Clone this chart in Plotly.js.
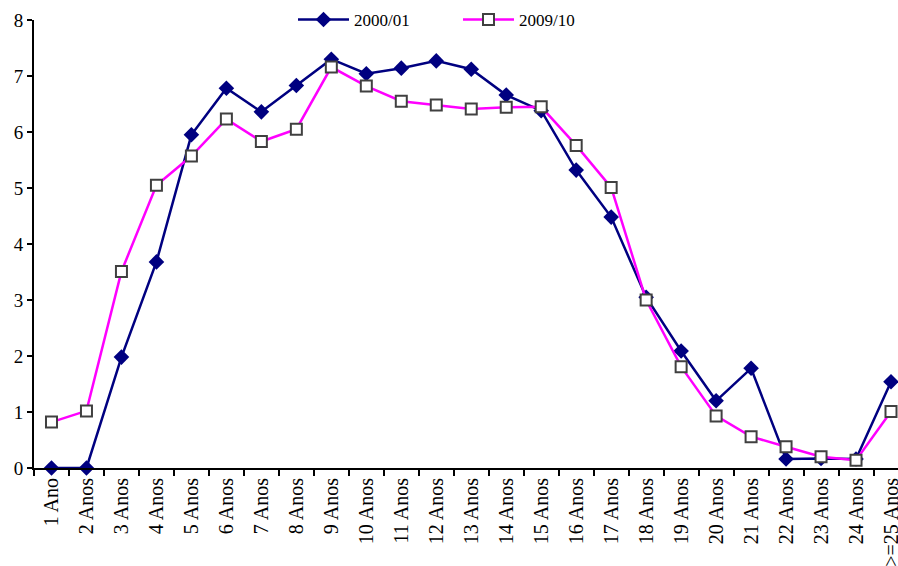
<!DOCTYPE html>
<html>
<head>
<meta charset="utf-8">
<script src="https://cdn.plot.ly/plotly-3.0.1.min.js"></script>
<style>html,body{margin:0;padding:0;background:#fff;}#chart{width:898px;height:566px;}</style>
</head>
<body>
<div id="chart"></div>
<script>
var categories = ["1 Ano","2 Anos","3 Anos","4 Anos","5 Anos","6 Anos","7 Anos","8 Anos","9 Anos","10 Anos","11 Anos","12 Anos","13 Anos","14 Anos","15 Anos","16 Anos","17 Anos","18 Anos","19 Anos","20 Anos","21 Anos","22 Anos","23 Anos","24 Anos",">=25 Anos"];
var series2000 = [0, 0, 1.98, 3.68, 5.95, 6.78, 6.36, 6.83, 7.30, 7.04, 7.14, 7.27, 7.12, 6.66, 6.38, 5.32, 4.48, 3.05, 2.09, 1.20, 1.78, 0.16, 0.17, 0.16, 1.54];
var series2009 = [0.82, 1.02, 3.51, 5.05, 5.57, 6.23, 5.83, 6.05, 7.16, 6.82, 6.55, 6.48, 6.41, 6.44, 6.45, 5.76, 5.01, 3.00, 1.81, 0.93, 0.56, 0.38, 0.20, 0.14, 1.01];
var seriesNames = ["2000/01", "2009/10"];

var traces = [
  {
    x: categories, y: series2000, name: seriesNames[0], type: "scatter", mode: "lines+markers",
    line: {color: "#000080", width: 2.5},
    marker: {symbol: "diamond", size: 12, color: "#000080", line: {width: 0}},
    cliponaxis: false, legend: "legend"
  },
  {
    x: categories, y: series2009, name: seriesNames[1], type: "scatter", mode: "lines+markers",
    line: {color: "#FF00FF", width: 2.5},
    marker: {symbol: "square", size: 11, color: "#FFFFFF", line: {color: "#404040", width: 2}},
    cliponaxis: false, legend: "legend2"
  }
];

var legendFont = {size: 17, family: "Liberation Serif, Times New Roman, serif", color: "#000"};
var layout = {
  width: 898, height: 566,
  margin: {l: 34, r: 0, t: 20, b: 98, pad: 0},
  paper_bgcolor: "#fff", plot_bgcolor: "#fff",
  font: {family: "Liberation Serif, Times New Roman, serif", size: 20, color: "#000"},
  showlegend: true,
  legend: {orientation: "h", x: (293 - 34) / 864, xanchor: "left", y: 1.0, yanchor: "middle", font: legendFont, itemwidth: 51, bgcolor: "rgba(0,0,0,0)"},
  legend2: {orientation: "h", x: (458 - 34) / 864, xanchor: "left", y: 1.0, yanchor: "middle", font: legendFont, itemwidth: 51, bgcolor: "rgba(0,0,0,0)"},
  xaxis: {
    type: "category", range: [-0.5, 24.2], showgrid: false, zeroline: false,
    showline: true, linecolor: "#000", linewidth: 2,
    ticks: "outside", tickson: "boundaries", ticklen: 6, tickwidth: 2, tickcolor: "#000",
    tickangle: -90, tickfont: {size: 20}
  },
  yaxis: {
    range: [0, 8], dtick: 1, showgrid: false, zeroline: false,
    showline: true, linecolor: "#000", linewidth: 2,
    ticks: "outside", ticklen: 5, tickwidth: 2, tickcolor: "#000",
    tickfont: {size: 19}
  }
};

Plotly.newPlot("chart", traces, layout, {displayModeBar: false, staticPlot: true});
</script>
</body>
</html>
